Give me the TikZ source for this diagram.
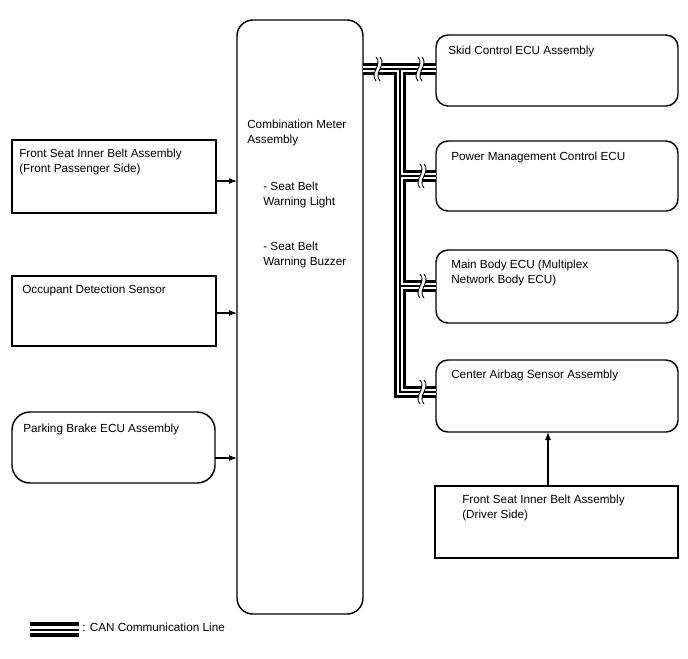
\documentclass[tikz,border=0pt]{standalone}
\usepackage{fontspec}
\setmainfont{Liberation Sans}
\usetikzlibrary{arrows.meta}
\newcommand{\unitpx}{0.75pt}

\begin{document}
\begin{tikzpicture}[
    x=0.75pt, y=-0.75pt,
    every node/.style={font=\fontsize{8.8}{11.2}\selectfont},
    plainbox/.style={draw, line width=1.1pt, inner sep=0pt, outer sep=0pt},
    ecu/.style={plainbox, rounded corners=12*\unitpx},
    txt/.style={anchor=north west, align=left, inner sep=0pt},
    sig/.style={line width=0.8pt, -{Latex[length=6pt,width=4.5pt]}},
    can/.style={line width=8.3pt, line join=miter, draw=black,
        postaction={draw=white, line width=3.8pt},
        postaction={draw=black, line width=1.25pt}}
]
\useasboundingbox (0,0) rectangle (688,658);

% meter in the middle
\node [ecu, rounded corners=16*\unitpx, minimum width=126*\unitpx, minimum height=594*\unitpx] (meter) at (300,317) {};

% ECUs on the CAN side
\node [ecu, minimum width=242*\unitpx, minimum height=71*\unitpx] (skid) at (557,70.5) {};
\node [ecu, minimum width=242*\unitpx, minimum height=70*\unitpx] (power) at (557,176) {};
\node [ecu, minimum width=242*\unitpx, minimum height=73*\unitpx] (body) at (557,286.5) {};
\node [ecu, minimum width=242*\unitpx, minimum height=72*\unitpx] (airbag) at (557,396) {};
\node [plainbox, minimum width=243*\unitpx, minimum height=72*\unitpx] (driver) at (556.5,522) {};

% inputs on the left
\node [plainbox, minimum width=204*\unitpx, minimum height=73*\unitpx] (fpass) at (114,176.5) {};
\node [plainbox, minimum width=204*\unitpx, minimum height=70*\unitpx] (occupant) at (114,311) {};
\node [ecu, rounded corners=18*\unitpx, minimum width=203*\unitpx, minimum height=71*\unitpx] (parking) at (113.5,447.5) {};

% texts
\node [txt] (metertext) at ([shift={(10,99.5)}]meter.north west) {Combination Meter\\Assembly};
\node [txt] (lighttext) at (263,181.5) {- Seat Belt\\Warning Light};
\node [txt] (buzzertext) at (263,241.5) {- Seat Belt\\Warning Buzzer};
\node [txt] (skidtext) at ([shift={(12,10.5)}]skid.north west) {Skid Control ECU Assembly};
\node [txt] (powertext) at ([shift={(15,10.5)}]power.north west) {Power Management Control ECU};
\node [txt] (bodytext) at ([shift={(15,9.5)}]body.north west) {Main Body ECU (Multiplex\\Network Body ECU)};
\node [txt] (airbagtext) at ([shift={(15,9.5)}]airbag.north west) {Center Airbag Sensor Assembly};
\node [txt] (drivertext) at ([shift={(27,8.5)}]driver.north west) {Front Seat Inner Belt Assembly\\(Driver Side)};
\node [txt] (fpasstext) at ([shift={(7,8.5)}]fpass.north west) {Front Seat Inner Belt Assembly\\(Front Passenger Side)};
\node [txt] (occupanttext) at ([shift={(10,8.5)}]occupant.north west) {Occupant Detection Sensor};
\node [txt] (parkingtext) at ([shift={(11,11.5)}]parking.north west) {Parking Brake ECU Assembly};

% signal arrows
\draw [sig] (fpass.east |- 0,181) -- (meter.west |- 0,181);
\draw [sig] (occupant.east |- 0,313) -- (meter.west |- 0,313);
\draw [sig] (parking.east |- 0,458) -- (meter.west |- 0,458);
\draw [sig] (driver.north -| 548,0) -- (airbag.south -| 548,0);

% CAN bus
\coordinate (j1) at (400,69);
\coordinate (j2) at (400,176);
\coordinate (j3) at (400,286);
\coordinate (j4) at (400,392);
\draw [can] (j1 -| meter.east) -- (j1 -| skid.west)
    (j1) -- (j4) -- (j4 -| airbag.west)
    (j2) -- (j2 -| power.west)
    (j3) -- (j3 -| body.west);

% line breaks
\foreach \bx/\by in {378/69, 420/69, 422/176, 422/286, 422/392} {
    \fill [white] ({\bx-2},{\by-12}) .. controls ({\bx+5},{\by-4}) and ({\bx-9},{\by+4}) .. ({\bx-2},{\by+12})
        -- ({\bx+2},{\by+12}) .. controls ({\bx-5},{\by+4}) and ({\bx+9},{\by-4}) .. ({\bx+2},{\by-12}) -- cycle;
    \draw [line width=0.7pt] ({\bx-2},{\by-12}) .. controls ({\bx+5},{\by-4}) and ({\bx-9},{\by+4}) .. ({\bx-2},{\by+12});
    \draw [line width=0.7pt] ({\bx+2},{\by-12}) .. controls ({\bx+9},{\by-4}) and ({\bx-5},{\by+4}) .. ({\bx+2},{\by+12});
}

% legend
\coordinate (lg1) at (30,629.7);
\coordinate (lg2) at (79,629.7);
\draw [line width=3pt] ([yshift=-5*\unitpx]lg1) -- ([yshift=-5*\unitpx]lg2);
\draw [line width=1.8pt] (lg1) -- (lg2);
\draw [line width=3pt] ([yshift=5.3*\unitpx]lg1) -- ([yshift=5.3*\unitpx]lg2);
\node [txt, anchor=base west] (legendtext) at (82,631) {: CAN Communication Line};

\end{tikzpicture}
\end{document}
